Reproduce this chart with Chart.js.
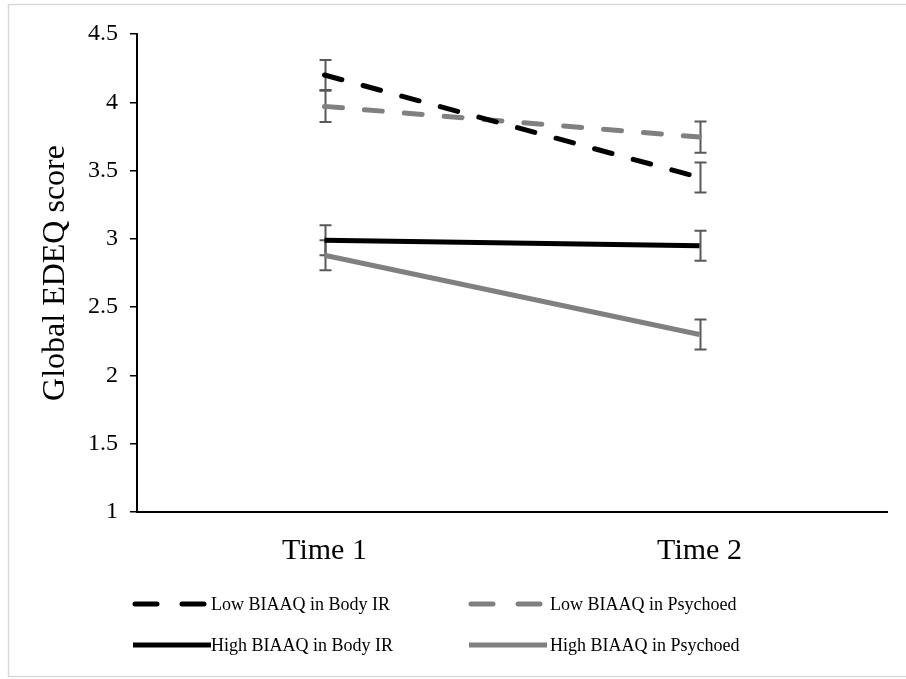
<!DOCTYPE html>
<html>
<head>
<meta charset="utf-8">
<script src="https://cdn.jsdelivr.net/npm/chart.js@4.4.0/dist/chart.umd.min.js"></script>
<style>
  body { margin: 0; background: #fff; }
  #wrap { position: relative; width: 906px; height: 679px; }
</style>
</head>
<body>
<div id="wrap"><canvas id="myChart" width="906" height="679"></canvas></div>
<script>
// 차트 데이터
const labels = ["Time 1", "Time 2"];
const seriesNames = [
  "Low BIAAQ in Body IR",
  "Low BIAAQ in Psychoed",
  "High BIAAQ in Body IR",
  "High BIAAQ in Psychoed",
];
const lowBodyIR = [4.2, 3.45];
const lowPsychoed = [3.97, 3.745];
const highBodyIR = [2.99, 2.95];
const highPsychoed = [2.88, 2.3];
// 오차 막대 (±)
const errLowBodyIR = [0.11, 0.11];
const errLowPsychoed = [0.115, 0.115];
const errHighBodyIR = [0.11, 0.11];
const errHighPsychoed = [0.11, 0.11];
const yTicks = [1, 1.5, 2, 2.5, 3, 3.5, 4, 4.5];

const serif = "'Liberation Serif', 'Times New Roman', serif";
const black = "#000000";
const grey = "#808080";

function makeSet(name, data, err, color, dashed) {
  return {
    label: name,
    data: data,
    err: err,
    borderColor: color,
    backgroundColor: color,
    borderWidth: 5,
    borderDash: dashed ? [18, 22] : [],
    borderCapStyle: dashed ? "round" : "butt",
    pointRadius: 0,
    pointHoverRadius: 0,
    tension: 0,
    fill: false,
  };
}

const datasets = [
  makeSet(seriesNames[0], lowBodyIR, errLowBodyIR, black, true),
  makeSet(seriesNames[1], lowPsychoed, errLowPsychoed, grey, true),
  makeSet(seriesNames[2], highBodyIR, errHighBodyIR, black, false),
  makeSet(seriesNames[3], highPsychoed, errHighPsychoed, grey, false),
];

// 바깥 테두리
const frame = {
  id: "frame",
  beforeDraw(chart) {
    const c = chart.ctx;
    c.save();
    c.fillStyle = "#fff";
    c.fillRect(0, 0, chart.width, chart.height);
    c.strokeStyle = "#d9d9d9";
    c.lineWidth = 1.5;
    c.strokeRect(8.5, 4.5, chart.width + 10, 672);
    c.restore();
  },
};

// 오차 막대
const errorBars = {
  id: "errorBars",
  beforeDatasetsDraw(chart) {
    const c = chart.ctx;
    const x = chart.scales.x;
    const y = chart.scales.y;
    c.save();
    c.strokeStyle = "#595959";
    c.lineWidth = 2;
    chart.data.datasets.forEach((ds) => {
      ds.data.forEach((v, i) => {
        const px = Math.round(x.getPixelForValue(i)) + 0.5;
        const top = y.getPixelForValue(v + ds.err[i]);
        const bot = y.getPixelForValue(v - ds.err[i]);
        c.beginPath();
        c.moveTo(px, top);
        c.lineTo(px, bot);
        c.moveTo(px - 6, top);
        c.lineTo(px + 6, top);
        c.moveTo(px - 6, bot);
        c.lineTo(px + 6, bot);
        c.stroke();
      });
    });
    c.restore();
  },
};

// 범례 (2열 x 2행)
const legend2x2 = {
  id: "legend2x2",
  afterDraw(chart) {
    const c = chart.ctx;
    const sampleX = [133, 469];
    const textX = [211, 550];
    const rows = [604, 645];
    c.save();
    c.font = "18px " + serif;
    c.textBaseline = "middle";
    c.fillStyle = "#000";
    chart.data.datasets.forEach((ds, i) => {
      const col = i % 2;
      const x0 = sampleX[col];
      const yy = rows[Math.floor(i / 2)];
      c.strokeStyle = ds.borderColor;
      c.lineWidth = 5;
      c.beginPath();
      if (ds.borderDash.length) {
        c.setLineDash([22, 25]);
        c.lineCap = "round";
        c.moveTo(x0 + 2, yy);
        c.lineTo(x0 + 71, yy);
      } else {
        c.setLineDash([]);
        c.lineCap = "butt";
        c.moveTo(x0, yy);
        c.lineTo(x0 + 78, yy);
      }
      c.stroke();
      c.setLineDash([]);
      c.fillText(ds.label, textX[col], yy + 1);
    });
    c.restore();
  },
};

const ctx = document.getElementById("myChart").getContext("2d");
const myChart = new Chart(ctx, {
  type: "line",
  data: { labels: labels, datasets: datasets },
  options: {
    responsive: false,
    animation: false,
    layout: { padding: { top: 34, right: 19, bottom: 97, left: 0 } },
    plugins: {
      legend: { display: false },
      tooltip: { enabled: false },
    },
    scales: {
      x: {
        offset: true,
        grid: { display: false },
        border: { display: true, color: "#000", width: 2 },
        ticks: { color: "#000", padding: 13, font: { family: serif, size: 30 } },
      },
      y: {
        min: 1,
        max: 4.5,
        afterBuildTicks(scale) {
          scale.ticks = yTicks.map((v) => ({ value: v }));
        },
        afterFit(scale) {
          scale.width = 137;
        },
        grid: {
          drawOnChartArea: false,
          drawTicks: true,
          tickLength: 7,
          color: "#000",
          lineWidth: 1.5,
        },
        border: { display: true, color: "#000", width: 2 },
        ticks: {
          color: "#000",
          padding: 12,
          font: { family: serif, size: 24 },
          callback: (value) => String(value),
        },
        title: {
          display: true,
          text: "Global EDEQ score",
          color: "#000",
          padding: { top: 36, bottom: 0 },
          font: { family: serif, size: 32 },
        },
      },
    },
  },
  plugins: [frame, errorBars, legend2x2],
});
</script>
</body>
</html>
